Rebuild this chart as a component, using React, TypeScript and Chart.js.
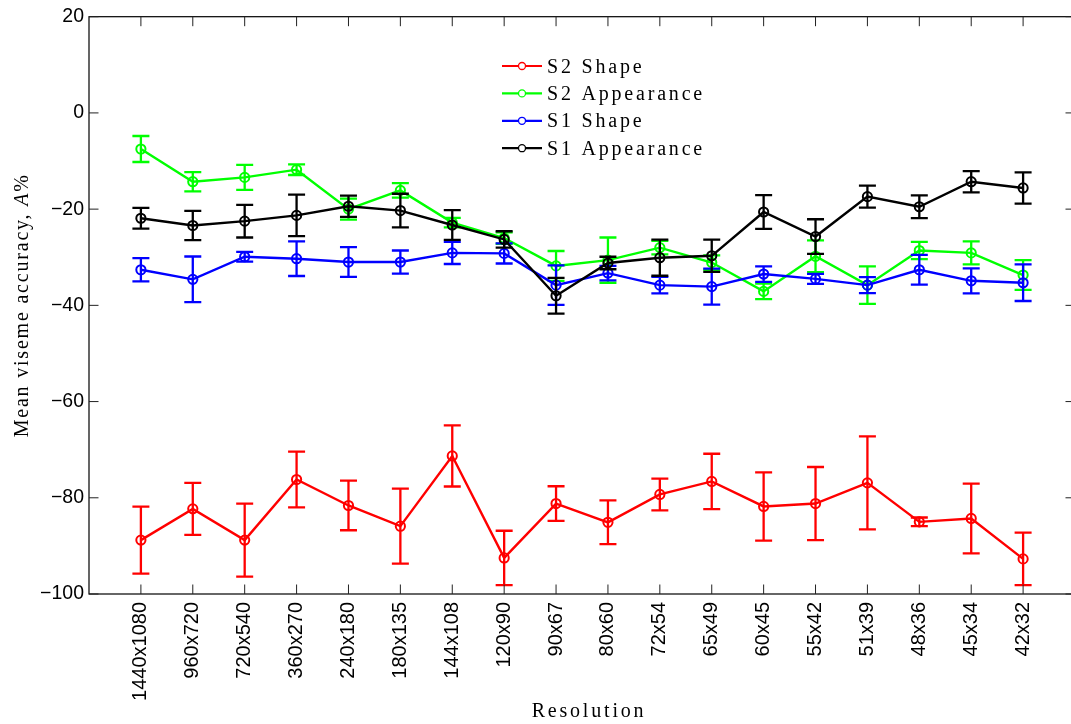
import React, { useEffect, useRef } from "react";
import { Chart, registerables } from "chart.js";

Chart.register(...registerables);

// Resolutions along the x axis
const resolutions = [
  "1440x1080", "960x720", "720x540", "360x270", "240x180", "180x135",
  "144x108", "120x90", "90x67", "80x60", "72x54", "65x49",
  "60x45", "55x42", "51x39", "48x36", "45x34", "42x32",
];

// Mean viseme accuracy (A%) and error half-widths per series
const s2ShapeMean = [-88.8, -82.3, -88.8, -76.2, -81.6, -85.9, -71.3, -92.5, -81.2, -85.1, -79.3, -76.6, -81.8, -81.2, -76.9, -85.0, -84.3, -92.7];
const s2ShapeErr = [6.95, 5.4, 7.6, 5.8, 5.15, 7.8, 6.35, 5.65, 3.6, 4.55, 3.3, 5.75, 7.1, 7.6, 9.65, 0.9, 7.25, 5.45];

const s2AppMean = [-7.5, -14.3, -13.4, -11.8, -20.0, -16.1, -22.8, -26.0, -31.8, -30.6, -28.0, -31.1, -37.1, -29.8, -35.8, -28.6, -29.1, -33.7];
const s2AppErr = [2.7, 2.0, 2.6, 1.1, 2.2, 1.5, 1.0, 1.2, 3.1, 4.7, 1.4, 1.5, 1.6, 3.3, 3.9, 1.8, 2.4, 3.1];

const s1ShapeMean = [-32.6, -34.6, -29.9, -30.3, -31.0, -31.0, -29.1, -29.2, -35.8, -33.3, -35.8, -36.1, -33.5, -34.5, -35.8, -32.6, -34.9, -35.3];
const s1ShapeErr = [2.4, 4.75, 1.0, 3.6, 3.1, 2.4, 2.3, 2.1, 4.1, 1.5, 1.7, 3.75, 1.6, 1.05, 1.65, 3.1, 2.6, 3.8];

const s1AppMean = [-21.9, -23.4, -22.5, -21.3, -19.4, -20.3, -23.3, -26.3, -38.0, -31.2, -30.1, -29.7, -20.6, -25.7, -17.4, -19.5, -14.3, -15.6];
const s1AppErr = [2.15, 3.05, 3.4, 4.3, 2.2, 3.5, 3.1, 1.7, 3.7, 1.3, 3.75, 3.35, 3.5, 3.6, 2.3, 2.35, 2.2, 3.25];

const seriesLabels = ["S2 Shape", "S2 Appearance", "S1 Shape", "S1 Appearance"];
const seriesColors = ["#ff0000", "#00ff00", "#0000ff", "#000000"];

const yTicks = [20, 0, -20, -40, -60, -80, -100];

const SERIF = "'Liberation Serif', 'Times New Roman', serif";
const SANS = "'Liberation Sans', Arial, sans-serif";

const fmt = (v: number) => (v < 0 ? "\u2212" + Math.abs(v) : String(v));

// Vertical error bars with caps, drawn right after each dataset
const errorBarPlugin = {
  id: "errorBars",
  afterDatasetDraw(chart: any, args: any) {
    const ds = chart.data.datasets[args.index];
    const errs: number[] = ds.errors;
    if (!errs) return;
    const ctx = chart.ctx;
    const yScale = chart.scales.y;
    const cap = 8.5;
    ctx.save();
    ctx.strokeStyle = ds.borderColor;
    ctx.lineWidth = 2.3;
    args.meta.data.forEach((pt: any, i: number) => {
      const v = ds.data[i].y;
      const e = errs[i];
      const x = pt.x;
      const yt = yScale.getPixelForValue(v + e);
      const yb = yScale.getPixelForValue(v - e);
      ctx.beginPath();
      ctx.moveTo(x, yt);
      ctx.lineTo(x, yb);
      ctx.moveTo(x - cap, yt);
      ctx.lineTo(x + cap, yt);
      ctx.moveTo(x - cap, yb);
      ctx.lineTo(x + cap, yb);
      ctx.stroke();
    });
    ctx.restore();
  },
};

// Axes box with inward ticks on all four sides, axis titles and legend
const framePlugin = {
  id: "frame",
  afterDraw(chart: any) {
    const ctx = chart.ctx;
    const { left, right, top, bottom } = chart.chartArea;
    const xs = chart.scales.x;
    const ys = chart.scales.y;
    const tl = 9.5;

    ctx.save();
    ctx.strokeStyle = "#000";
    ctx.lineWidth = 1.2;
    ctx.strokeRect(left, top, right - left, bottom - top);

    ctx.lineWidth = 1;
    ctx.strokeStyle = "#222";
    ctx.beginPath();
    resolutions.forEach((_, i) => {
      const x = xs.getPixelForValue(i);
      ctx.moveTo(x, bottom);
      ctx.lineTo(x, bottom - tl);
      ctx.moveTo(x, top);
      ctx.lineTo(x, top + tl);
    });
    yTicks.forEach((v) => {
      const y = ys.getPixelForValue(v);
      ctx.moveTo(left, y);
      ctx.lineTo(left + tl, y);
      ctx.moveTo(right, y);
      ctx.lineTo(right - tl, y);
    });
    ctx.stroke();

    // x axis title
    ctx.fillStyle = "#000";
    ctx.font = `20px ${SERIF}`;
    (ctx as any).letterSpacing = "2.8px";
    ctx.textAlign = "center";
    ctx.textBaseline = "alphabetic";
    ctx.fillText("Resolution", 589, 716.5);

    // y axis title, reading bottom to top
    ctx.save();
    ctx.translate(28, (top + bottom) / 2);
    ctx.rotate(-Math.PI / 2);
    (ctx as any).letterSpacing = "1.8px";
    ctx.textAlign = "left";
    const partA = "Mean viseme accuracy, ";
    const partB = "A";
    const partC = "%";
    ctx.font = `20px ${SERIF}`;
    const wA = ctx.measureText(partA).width;
    const wC = ctx.measureText(partC).width;
    ctx.font = `italic 20px ${SERIF}`;
    const wB = ctx.measureText(partB).width;
    const total = wA + wB + wC;
    let x0 = -total / 2;
    ctx.font = `20px ${SERIF}`;
    ctx.fillText(partA, x0, 0);
    x0 += wA;
    ctx.font = `italic 20px ${SERIF}`;
    ctx.fillText(partB, x0, 0);
    x0 += wB;
    ctx.font = `20px ${SERIF}`;
    ctx.fillText(partC, x0, 0);
    ctx.restore();

    // legend
    const lx0 = 502;
    const lx1 = 542;
    const rowY0 = 66;
    const rowStep = 27.4;
    chart.data.datasets.forEach((ds: any, i: number) => {
      const y = rowY0 + i * rowStep;
      ctx.strokeStyle = ds.borderColor;
      ctx.lineWidth = 2.2;
      ctx.beginPath();
      ctx.moveTo(lx0, y);
      ctx.lineTo(lx1, y);
      ctx.stroke();
      ctx.fillStyle = "#fff";
      ctx.lineWidth = 1.3;
      ctx.beginPath();
      ctx.arc((lx0 + lx1) / 2, y, 3.5, 0, Math.PI * 2);
      ctx.fill();
      ctx.stroke();
      ctx.fillStyle = "#000";
      ctx.font = `20px ${SERIF}`;
      (ctx as any).letterSpacing = "2.8px";
      ctx.textAlign = "left";
      ctx.textBaseline = "alphabetic";
      ctx.fillText(ds.label, 547, y + 6.5);
    });
    (ctx as any).letterSpacing = "0px";
    ctx.restore();
  },
};

function makeDataset(label: string, color: string, means: number[], errs: number[], order: number) {
  return {
    label,
    data: means.map((v, i) => ({ x: i, y: v })),
    errors: errs,
    borderColor: color,
    backgroundColor: color,
    borderWidth: 2.4,
    tension: 0,
    pointStyle: "circle",
    pointRadius: 4.6,
    pointBorderWidth: 2,
    pointBackgroundColor: "rgba(0,0,0,0)",
    pointBorderColor: color,
    order,
  };
}

export default function App() {
  const canvasRef = useRef<HTMLCanvasElement | null>(null);

  useEffect(() => {
    const canvas = canvasRef.current;
    if (!canvas) return;
    const chart = new Chart(canvas, {
      type: "line",
      data: {
        datasets: [
          makeDataset(seriesLabels[0], seriesColors[0], s2ShapeMean, s2ShapeErr, 4),
          makeDataset(seriesLabels[1], seriesColors[1], s2AppMean, s2AppErr, 3),
          makeDataset(seriesLabels[2], seriesColors[2], s1ShapeMean, s1ShapeErr, 2),
          makeDataset(seriesLabels[3], seriesColors[3], s1AppMean, s1AppErr, 1),
        ] as any,
      },
      options: {
        animation: false,
        responsive: false,
        devicePixelRatio: 1,
        layout: { padding: { top: 15, right: 5, left: 0, bottom: 0 }, autoPadding: false } as any,
        plugins: {
          legend: { display: false },
          tooltip: { enabled: false },
        },
        scales: {
          x: {
            type: "linear",
            min: -1,
            max: 18,
            grid: { display: false, drawTicks: false },
            border: { display: false },
            afterBuildTicks: (s: any) => {
              s.ticks = resolutions.map((_, i) => ({ value: i }));
            },
            afterFit: (s: any) => {
              s.height = 130;
            },
            ticks: {
              autoSkip: false,
              minRotation: 90,
              maxRotation: 90,
              padding: 8,
              color: "#000",
              font: { family: SANS, size: 20 },
              callback: (_v: any, i: number) => resolutions[i],
            },
          },
          y: {
            type: "linear",
            min: -100,
            max: 20,
            grid: { display: false, drawTicks: false },
            border: { display: false },
            afterBuildTicks: (s: any) => {
              s.ticks = yTicks.map((v) => ({ value: v }));
            },
            afterFit: (s: any) => {
              s.width = 89;
            },
            ticks: {
              padding: 5,
              color: "#000",
              font: { family: SANS, size: 19.5 },
              callback: (v: any) => fmt(Number(v)),
            },
          },
        },
      } as any,
      plugins: [errorBarPlugin, framePlugin],
    });
    return () => chart.destroy();
  }, []);

  return (
    <div
      style={{
        position: "fixed",
        left: 0,
        top: 0,
        width: 1071,
        height: 724,
        overflow: "hidden",
        background: "#fff",
      }}
    >
      <canvas
        ref={canvasRef}
        width={1080}
        height={724}
        style={{ width: 1080, height: 724, display: "block" }}
      />
    </div>
  );
}
